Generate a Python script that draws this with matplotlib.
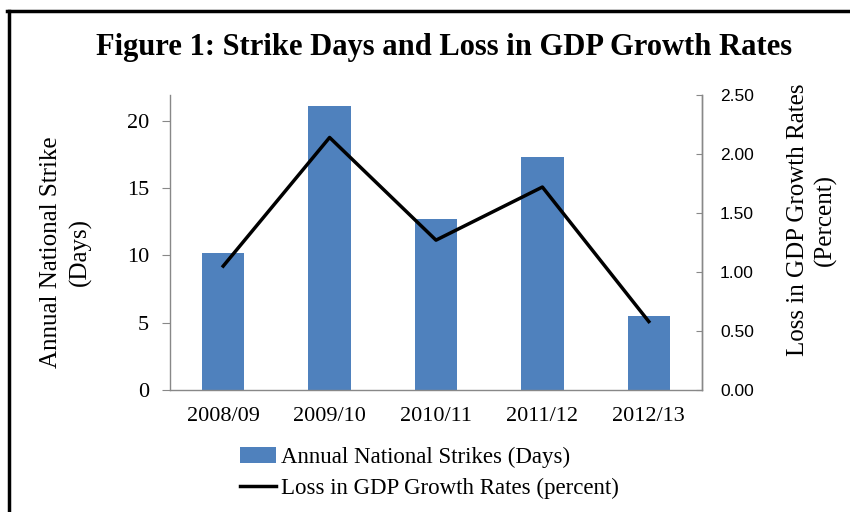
import numpy as np
import matplotlib
matplotlib.use("Agg")
import matplotlib.pyplot as plt
from matplotlib.lines import Line2D

years = ["2008/09", "2009/10", "2010/11", "2011/12", "2012/13"]
strike_days = [10.2, 21.1, 12.7, 17.3, 5.5]
gdp_loss = [1.05, 2.14, 1.27, 1.72, 0.58]

serif = "Liberation Serif"
sans = "Liberation Sans"
grey = "#888888"

fig = plt.figure(figsize=(8.5, 5.12), dpi=100)
ax = fig.add_axes([170 / 850, 1 - 390 / 512, 532 / 850, 295 / 512])
ax2 = ax.twinx()

x = np.arange(len(years))
bars = ax.bar(x, strike_days, width=0.4, color="#4F81BD", zorder=2,
              label="Annual National Strikes (Days)")
line, = ax2.plot(x, gdp_loss, color="black", lw=2.5, zorder=3,
                 label="Loss in GDP Growth Rates (percent)")

ax.set_xlim(-0.5, len(years) - 0.5)
ax.set_ylim(0, 21.9)
ax.set_yticks([0, 5, 10, 15, 20])
ax2.set_ylim(0, 2.5)
ax2.set_yticks([0, 0.5, 1.0, 1.5, 2.0, 2.5])
ax2.set_yticklabels([f"{v:.2f}" for v in [0, 0.5, 1.0, 1.5, 2.0, 2.5]])

ax.set_xticks(x)
ax.set_xticklabels(years, fontfamily=serif, fontsize=16)
ax.tick_params(axis="x", length=0, pad=12)
ax.tick_params(axis="y", length=6, color=grey, labelsize=16, pad=9)
for lbl in ax.get_yticklabels():
    lbl.set_fontfamily(serif)
ax2.tick_params(axis="y", length=4, direction="in", color=grey,
                labelsize=12.5, pad=13)
for lbl in ax2.get_yticklabels():
    lbl.set_fontfamily(sans)

for a in (ax, ax2):
    a.spines["top"].set_visible(False)
    for s in ("left", "right", "bottom"):
        a.spines[s].set_color(grey)
        a.spines[s].set_linewidth(1)
ax2.spines["left"].set_visible(False)
ax2.spines["bottom"].set_visible(False)

# axis titles placed where the source puts them
fig.text(66 / 850, 1 - 252 / 512, "Annual National Strike\n(Days)",
         rotation=90, ha="center", va="center", multialignment="center",
         fontfamily=serif, fontsize=18, linespacing=1.35)
fig.text(812 / 850, 1 - 220 / 512, "Loss in GDP Growth Rates\n(Percent)",
         rotation=90, ha="center", va="center", multialignment="center",
         fontfamily=serif, fontsize=18, linespacing=1.3)

fig.text(0.522, 1 - 48 / 512, "Figure 1: Strike Days and Loss in GDP Growth Rates",
         ha="center", va="center", fontfamily=serif, fontweight="bold",
         fontsize=22)

fig.legend(handles=[bars, line], loc="center", bbox_to_anchor=(0.505, 1 - 473 / 512),
           frameon=False, prop={"family": serif, "size": 16.5},
           handlelength=1.6, handletextpad=0.2, labelspacing=0.45,
           borderaxespad=0)

# frame around the figure (top and left visible in the source crop)
fig.add_artist(Line2D([7 / 850, 1], [1 - 11 / 512] * 2, color="black", lw=2.5,
                      transform=fig.transFigure))
fig.add_artist(Line2D([8.5 / 850] * 2, [0, 1 - 11 / 512], color="black", lw=2.5,
                      transform=fig.transFigure))

fig.savefig("out.png", dpi=100)
